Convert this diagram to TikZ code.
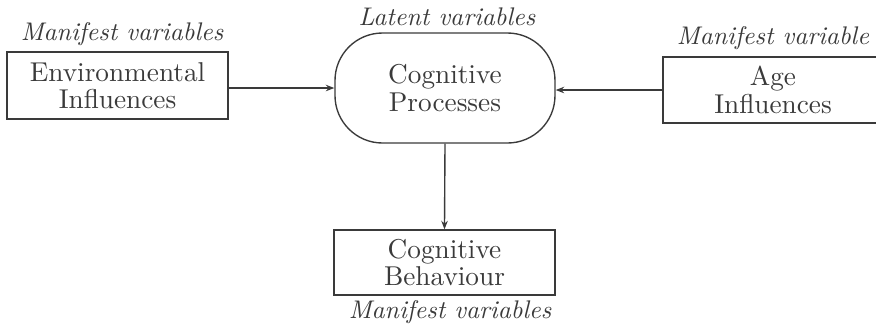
\documentclass[tikz,border=0pt]{standalone}
\usetikzlibrary{arrows.meta}
\definecolor{ink}{HTML}{3A3A3A}
\begin{document}
\begin{tikzpicture}[x=0.4pt,y=-0.4pt,
  every node/.style={text=ink},
  box/.style={draw=ink,line width=0.55pt,inner sep=0pt,align=center,
    font=\fontsize{10.9pt}{10.9pt}\selectfont},
  varlabel/.style={inner sep=0pt,anchor=base,font=\fontsize{10.2pt}{12pt}\selectfont\itshape},
  arr/.style={draw=ink,line width=0.55pt,-{Stealth[length=3.4pt,width=2.6pt]}}]
\useasboundingbox (0,0) rectangle (876,329);
\clip (0,0) rectangle (876,329);
% boxes
\node[box,minimum width=88.4pt,minimum height=26.8pt] (env) at (117.5,85.5) {Environmental\\Influences};
\node[box,minimum width=88pt,minimum height=44pt,rounded corners=19pt] (cog) at (445,88) {Cognitive\\Processes};
\node[box,minimum width=88pt,minimum height=26.4pt] (age) at (773,90) {Age\\Influences};
\node[box,minimum width=88.4pt,minimum height=26pt] (beh) at (444.5,262.5) {Cognitive\\Behaviour};
% variable type labels
\node[varlabel] (lenv) at (122,40) {Manifest variables};
\node[varlabel] (lcog) at (447,25) {Latent variables};
\node[varlabel] (lage) at (773,44) {Manifest variable};
\node[varlabel] (lbeh) at (450,318) {Manifest variables};
% connectors
\draw[arr] (cog.west -| env.east) -- (cog.west);
\draw[arr] (age.west) -- (age.west -| cog.east);
\draw[arr] (cog.south) -- (beh.north);
\end{tikzpicture}
\end{document}
